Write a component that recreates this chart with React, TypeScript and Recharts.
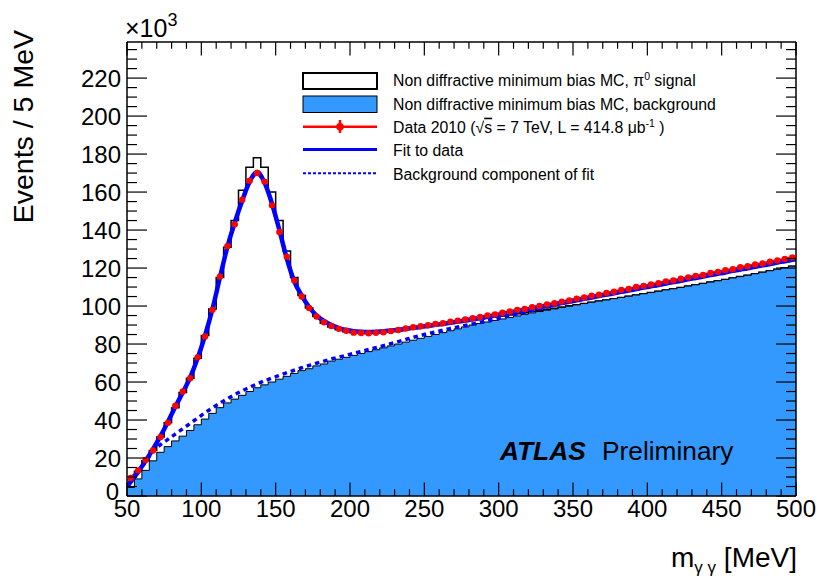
import React from 'react';
import { ComposedChart, Area, Line, XAxis, YAxis } from 'recharts';

// ---- binning (5 MeV bins from 50 to 500 MeV) ----
const BIN_START = 50;
const BIN_WIDTH = 5;

// MC: non diffractive minimum bias, signal + background (stack total), per bin (x1000 events)
const mcTotal = [
  8.5, 13, 18.5, 24, 31, 38.5, 46.5, 54.5, 62, 72.5,
  84.5, 98.5, 115, 131, 145, 161, 173, 178, 173, 160,
  145, 129, 115, 105.5, 99, 94.5, 91, 89, 87.5, 86.5,
  86, 85.8, 85.8, 86, 86.3, 86.8, 87, 87.7, 88.3, 88.8,
  89.3, 89.8, 90.3, 90.8, 91.4, 91.9, 92.5, 93, 93.6, 94.1,
  94.7, 95.3, 95.9, 96.5, 97.1, 97.7, 98.3, 98.9, 99.5, 100.1,
  100.7, 101.3, 102, 102.6, 103.2, 103.9, 104.5, 105.2, 105.8, 106.5,
  107.1, 107.8, 108.5, 109.1, 109.8, 110.5, 111.2, 111.9, 112.6, 113.3,
  114, 114.8, 115.5, 116.2, 117, 117.8, 118.6, 119.4, 120.2, 121,
];

// MC: background component, per bin
const mcBackground = [
  4.5, 9, 13.5, 18.5, 23, 26, 29, 31.5, 34.5, 37.5,
  40.5, 43.5, 46.5, 49, 51, 53, 55, 57, 58.5, 60,
  61.5, 63, 64.5, 66, 67, 68.5, 69.5, 71, 72, 73,
  74, 75, 76, 77, 78, 79, 80, 81, 82, 83,
  84, 85, 86, 87, 88, 89, 90, 90.8, 91.6, 92.4,
  93.2, 94, 94.8, 95.6, 96.4, 97.1, 97.8, 98.5, 99.2, 99.9,
  100.6, 101.3, 102, 102.6, 103.2, 103.9, 104.5, 105.2, 105.8, 106.5,
  107.1, 107.8, 108.5, 109.1, 109.8, 110.5, 111.2, 111.9, 112.6, 113.3,
  114, 114.8, 115.5, 116.2, 117, 117.8, 118.6, 119.4, 120.2, 121,
];

// Data 2010, at bin centres
const dataValues = [
  9.5, 13.5, 19, 24, 31, 38.5, 47.5, 55, 62, 73,
  84, 98, 115.5, 131.5, 143, 156, 166, 170, 165.5, 153,
  139, 126, 113.5, 105, 99, 94.5, 91.5, 89.5, 88, 87,
  86, 85.8, 85.7, 85.9, 86.2, 86.8, 87.4, 88.2, 88.8, 89.4,
  89.9, 90.6, 91, 91.8, 92.3, 92.9, 93.6, 94.2, 95.1, 95.6,
  96.5, 97.1, 98, 98.5, 99.4, 100, 100.9, 101.5, 102.3, 103,
  103.9, 104.5, 105.4, 106, 106.9, 107.5, 108.5, 109, 110, 110.6,
  111.4, 112, 113, 113.5, 114.4, 115.1, 115.9, 116.4, 117.4, 118,
  118.9, 119.4, 120.4, 121, 121.9, 122.4, 123.3, 124, 124.8, 125.6,
];

// Fit to data, read at bin centres
const fitValues = [
  7.5, 12.7, 18.5, 24.7, 31.5, 39, 47, 54.5, 62.5, 72.5,
  84.5, 98.5, 115, 131, 144, 155.5, 165.5, 170.5, 165, 154,
  140, 125, 113, 105.5, 99.5, 95, 92.2, 90, 88.4, 87.4,
  86.8, 86.5, 86.4, 86.5, 86.7, 87.1, 87.5, 88, 88.5, 89,
  89.5, 90.1, 90.6, 91.2, 91.8, 92.4, 93, 93.6, 94.3, 95,
  95.7, 96.4, 97.2, 97.9, 98.6, 99.4, 100.1, 100.8, 101.6, 102.3,
  103, 103.8, 104.5, 105.3, 106, 106.7, 107.5, 108.2, 108.9, 109.7,
  110.4, 111.1, 111.9, 112.6, 113.3, 114.1, 114.8, 115.5, 116.3, 117,
  117.7, 118.5, 119.2, 119.9, 120.7, 121.4, 122.1, 122.9, 123.6, 124.3,
];
const fitEdgeValues = [5, 124.7];

// Background component of fit, read at bin centres
const bkgFitValues = [
  7.5, 12.6, 18, 23.3, 27, 29.8, 32.6, 35.4, 38.2, 41,
  43.8, 46.4, 48.9, 51.2, 53.4, 55.4, 57.3, 59, 60.6, 62.1,
  63.5, 64.9, 66.2, 67.5, 68.7, 69.9, 71, 72.1, 73.1, 74.1,
  75.1, 76.1, 77.1, 78.1, 79.1, 80.2, 81.3, 82.4, 83.5, 84.5,
  85.5, 86.4, 87.3, 88.2, 89, 89.8, 90.6, 91.5, 92.3, 93.2,
  94.1, 95, 95.9, 96.8, 97.7, 98.6, 99.5, 100.4, 101.3, 102.1,
  102.9, 103.7, 104.5, 105.3, 106, 106.7, 107.5, 108.2, 108.9, 109.7,
  110.4, 111.1, 111.9, 112.6, 113.3, 114.1, 114.8, 115.5, 116.3, 117,
  117.7, 118.5, 119.2, 119.9, 120.7, 121.4, 122.1, 122.9, 123.6, 124.3,
];
const bkgFitEdgeValues = [5, 124.7];

const xTicks = [50, 60, 70, 80, 90, 100, 110, 120, 130, 140, 150, 160, 170, 180, 190, 200, 210, 220, 230, 240, 250, 260, 270, 280, 290, 300, 310, 320, 330, 340, 350, 360, 370, 380, 390, 400, 410, 420, 430, 440, 450, 460, 470, 480, 490, 500];
const yTicks = [0, 5, 10, 15, 20, 25, 30, 35, 40, 45, 50, 55, 60, 65, 70, 75, 80, 85, 90, 95, 100, 105, 110, 115, 120, 125, 130, 135, 140, 145, 150, 155, 160, 165, 170, 175, 180, 185, 190, 195, 200, 205, 210, 215, 220, 225, 230, 235];

type Row = { x: number; total?: number; bkg?: number; data?: number; fit?: number; bkgFit?: number };
const rows: Row[] = [];
for (let i = 0; i <= mcTotal.length; i++) {
  const edge = BIN_START + BIN_WIDTH * i;
  const last = i === mcTotal.length;
  const r: Row = {
    x: edge,
    total: last ? mcTotal[i - 1] : mcTotal[i],
    bkg: last ? mcBackground[i - 1] : mcBackground[i],
  };
  if (i === 0) { r.fit = fitEdgeValues[0]; r.bkgFit = bkgFitEdgeValues[0]; }
  if (last) { r.fit = fitEdgeValues[1]; r.bkgFit = bkgFitEdgeValues[1]; }
  rows.push(r);
  if (!last) {
    rows.push({ x: edge + BIN_WIDTH / 2, data: dataValues[i], fit: fitValues[i], bkgFit: bkgFitValues[i] });
  }
}

const FONT = "'Liberation Sans', Arial, Helvetica, sans-serif";
const TICK_FONT_SIZE = 24;

function BottomTick(props: any) {
  const { x, y, payload } = props;
  const v = payload.value;
  const major = v % 50 === 0;
  return (
    <g>
      <line x1={x} x2={x} y1={y} y2={y - (major ? 13.5 : 6.8)} stroke="#000" strokeWidth={1.2} />
      {major && (
        <text x={x} y={y + 21} textAnchor="middle" fontSize={TICK_FONT_SIZE} fontFamily={FONT} fill="#000">{v}</text>
      )}
    </g>
  );
}
function TopTick(props: any) {
  const { x, y, payload } = props;
  const major = payload.value % 50 === 0;
  return <line x1={x} x2={x} y1={y} y2={y + (major ? 13.5 : 6.8)} stroke="#000" strokeWidth={1.2} />;
}
function LeftTick(props: any) {
  const { x, y, payload } = props;
  const v = payload.value;
  const major = v % 20 === 0;
  const isZero = v === 0;
  return (
    <g>
      <line x1={x} x2={x + (major ? 20 : 10)} y1={y} y2={y} stroke="#000" strokeWidth={1.2} />
      {major && (
        <text x={x - (isZero ? 8 : 6)} y={y + (isZero ? 4 : 8.5)} textAnchor="end" fontSize={TICK_FONT_SIZE} fontFamily={FONT} fill="#000">{v}</text>
      )}
    </g>
  );
}
function RightTick(props: any) {
  const { x, y, payload } = props;
  const major = payload.value % 20 === 0;
  return <line x1={x} x2={x - (major ? 20 : 10)} y1={y} y2={y} stroke="#000" strokeWidth={1.2} />;
}

function Overlay() {
  const t = { fontFamily: FONT, fill: '#000' } as const;
  return (
    <svg width={819} height={578} style={{ position: 'absolute', left: 0, top: 0, pointerEvents: 'none' }}>
      <text x={125} y={37} fontSize={25} {...t}>×10<tspan dy={-11} fontSize={18}>3</tspan></text>
      <text transform="translate(33,30) rotate(-90)" textAnchor="end" fontSize={28.5} {...t}>Events / 5 MeV</text>
      <text x={797} y={567} textAnchor="end" fontSize={28} {...t}>
        m<tspan fontSize={17} dy={6}>γ γ</tspan><tspan dy={-6}> [MeV]</tspan>
      </text>
      <text x={500} y={460} fontSize={26.3} fontWeight="bold" fontStyle="italic" {...t}>ATLAS</text>
      <text x={602} y={460} fontSize={26.3} {...t}>Preliminary</text>

      {/* legend */}
      <rect x={303} y={73} width={74} height={16} fill="#fff" stroke="#000" strokeWidth={2} />
      <rect x={303} y={96} width={74} height={16.5} fill="#3399ff" stroke="#000" strokeWidth={1} />
      <line x1={303} x2={377} y1={126.7} y2={126.7} stroke="#ff0000" strokeWidth={2.5} />
      <line x1={340} x2={340} y1={120} y2={133} stroke="#ff0000" strokeWidth={2.5} />
      <circle cx={340} cy={126.7} r={3.8} fill="#ff0000" />
      <line x1={303} x2={377} y1={149.5} y2={149.5} stroke="#0000ff" strokeWidth={3} />
      <line x1={303} x2={377} y1={173.3} y2={173.3} stroke="#0000ff" strokeWidth={2} strokeDasharray="3 2" />
      <text x={393} y={86} fontSize={15.8} {...t}>Non diffractive minimum bias MC, π<tspan dy={-6} fontSize={10.5}>0</tspan><tspan dy={6}> signal</tspan></text>
      <text x={393} y={109.5} fontSize={15.8} {...t}>Non diffractive minimum bias MC, background</text>
      <text x={393} y={132.7} fontSize={15.8} {...t}>
        Data 2010 (√<tspan style={{ textDecoration: 'overline' }}>s</tspan> = 7 TeV, L = 414.8 μb<tspan dy={-6} fontSize={10.5}>-1</tspan><tspan dy={6}> )</tspan>
      </text>
      <text x={393} y={156} fontSize={15.8} {...t}>Fit to data</text>
      <text x={393} y={179.5} fontSize={15.8} {...t}>Background component of fit</text>
    </svg>
  );
}

export default function App() {
  return (
    <div style={{ position: 'absolute', left: 0, top: 0, width: 819, height: 578, background: '#fff' }}>
      <ComposedChart width={819} height={578} data={rows} margin={{ top: 41, right: 22, bottom: 81, left: 126 }}>
        <XAxis xAxisId="b" dataKey="x" type="number" domain={[50, 500]} ticks={xTicks} interval={0} allowDataOverflow
          height={1} tickSize={0} tickMargin={0} tickLine={false} tick={<BottomTick />} axisLine={{ stroke: '#000', strokeWidth: 1.5 }} />
        <XAxis xAxisId="t" orientation="top" dataKey="x" type="number" domain={[50, 500]} ticks={xTicks} interval={0} allowDataOverflow
          height={1} tickSize={0} tickMargin={0} tickLine={false} tick={<TopTick />} axisLine={{ stroke: '#000', strokeWidth: 1.5 }} />
        <YAxis yAxisId="l" type="number" domain={[0, 239]} ticks={yTicks} interval={0} allowDataOverflow
          width={1} tickSize={0} tickMargin={0} tickLine={false} tick={<LeftTick />} axisLine={{ stroke: '#000', strokeWidth: 1.5 }} />
        <YAxis yAxisId="r" orientation="right" type="number" domain={[0, 239]} ticks={yTicks} interval={0} allowDataOverflow
          width={1} tickSize={0} tickMargin={0} tickLine={false} tick={<RightTick />} axisLine={{ stroke: '#000', strokeWidth: 1.5 }} />

        <Area xAxisId="b" yAxisId="l" type="stepAfter" dataKey="total" connectNulls isAnimationActive={false}
          fill="#ffffff" fillOpacity={1} stroke="#000" strokeWidth={1.5} dot={false} activeDot={false} />
        <Area xAxisId="b" yAxisId="l" type="stepAfter" dataKey="bkg" connectNulls isAnimationActive={false}
          fill="#3399ff" fillOpacity={1} stroke="#000" strokeWidth={1} dot={false} activeDot={false} />
        <Line xAxisId="b" yAxisId="l" type="monotone" dataKey="bkgFit" connectNulls isAnimationActive={false}
          stroke="#0000ff" strokeWidth={3.5} strokeDasharray="4.5 4" dot={false} activeDot={false} />
        <Line xAxisId="b" yAxisId="l" type="linear" dataKey="data" connectNulls isAnimationActive={false}
          stroke="#ff0000" strokeWidth={2.5} dot={{ r: 3.2, fill: '#ff0000', stroke: 'none' }} activeDot={false} />
        <Line xAxisId="b" yAxisId="l" type="monotone" dataKey="fit" connectNulls isAnimationActive={false}
          stroke="#0000ff" strokeWidth={4.5} dot={false} activeDot={false} />
      </ComposedChart>
      <Overlay />
    </div>
  );
}
